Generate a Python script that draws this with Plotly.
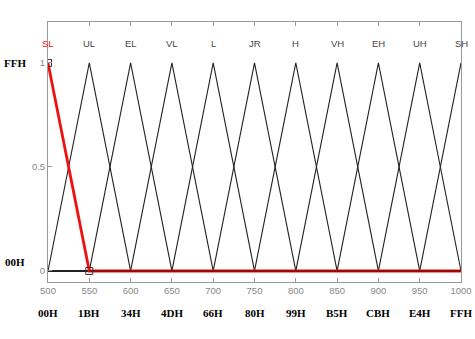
import plotly.graph_objects as go

mf_names = ["SL", "UL", "EL", "VL", "L", "JR", "H", "VH", "EH", "UH", "SH"]
mf_centers = [500, 550, 600, 650, 700, 750, 800, 850, 900, 950, 1000]
mf_half_width = 50
x_min, x_max = 500, 1000
x_ticks = [500, 550, 600, 650, 700, 750, 800, 850, 900, 950, 1000]
hex_labels = ["00H", "1BH", "34H", "4DH", "66H", "80H", "99H", "B5H", "CBH", "E4H", "FFH"]
y_ticks = [0, 0.5, 1]
left_labels = [("FFH", 1.0), ("00H", 0.043)]

def trimf_points(c, w):
    a, b = c - w, c + w
    out_x, out_y = [], []
    if x_min < a:
        out_x.append(x_min); out_y.append(0)
    for px, py in [(a, 0), (c, 1), (b, 0)]:
        if x_min <= px <= x_max:
            out_x.append(px); out_y.append(py)
    if b < x_max:
        out_x.append(x_max); out_y.append(0)
    return out_x, out_y

fig = go.Figure()
for name, c in zip(mf_names[1:], mf_centers[1:]):
    xs, ys = trimf_points(c, mf_half_width)
    fig.add_trace(go.Scatter(x=xs, y=ys, mode="lines",
                             line=dict(color="#222222", width=1.1), showlegend=False))

# selected MF (red)
xs, ys = trimf_points(mf_centers[0], mf_half_width)
fig.add_trace(go.Scatter(x=xs, y=ys, mode="lines",
                         line=dict(color="#ee1111", width=2.8), showlegend=False))
fig.add_trace(go.Scatter(x=[mf_centers[1], x_max], y=[0, 0], mode="lines",
                         line=dict(color="#550000", width=1.4), opacity=0.7, showlegend=False))
fig.add_trace(go.Scatter(x=[mf_centers[0], mf_centers[1]], y=[1, 0], mode="markers",
                         marker=dict(symbol="square-open", size=7, color="#333333",
                                     line=dict(width=1)), showlegend=False))

annotations = []
for name, c in zip(mf_names, mf_centers):
    annotations.append(dict(x=c, y=1.096, xref="x", yref="y", text=name, showarrow=False,
                            font=dict(family="Liberation Sans, Arial", size=9.5,
                                      color="#ee1111" if name == "SL" else "#444444")))
for t, lab in zip(x_ticks, hex_labels):
    annotations.append(dict(x=t, y=-0.119, xref="x", yref="paper", text="<b>" + lab + "</b>",
                            showarrow=False,
                            font=dict(family="Liberation Serif, Times New Roman", size=11,
                                      color="black"), xanchor="center", yanchor="middle"))
for lab, yv in left_labels:
    annotations.append(dict(x=-0.08, y=yv, xref="paper", yref="y", text="<b>" + lab + "</b>",
                            showarrow=False,
                            font=dict(family="Liberation Serif, Times New Roman", size=11,
                                      color="black"), xanchor="center", yanchor="middle"))

fig.update_layout(
    width=475, height=339,
    margin=dict(l=48, r=14, t=22, b=57, autoexpand=False),
    paper_bgcolor="white", plot_bgcolor="white",
    annotations=annotations,
    xaxis=dict(range=[x_min, x_max], tickvals=x_ticks, ticks="inside", ticklen=4,
               tickcolor="#999999", showline=True, linecolor="#999999", linewidth=1,
               mirror="ticks", showgrid=False, zeroline=False, automargin=False,
               tickfont=dict(family="Liberation Sans, Arial", size=9.5, color="#888888")),
    yaxis=dict(range=[-0.053, 1.197], tickvals=y_ticks, ticktext=["0", "0.5", "1"],
               ticks="inside", ticklen=4, tickcolor="#999999", showline=True,
               linecolor="#999999", linewidth=1, mirror=True, showgrid=False, zeroline=False,
               automargin=False,
               tickfont=dict(family="Liberation Sans, Arial", size=9.5, color="#888888")),
)
fig.write_html("out.html", config={"displayModeBar": False},
               post_script="document.body.style.margin='0px';document.body.style.overflow='hidden';")
